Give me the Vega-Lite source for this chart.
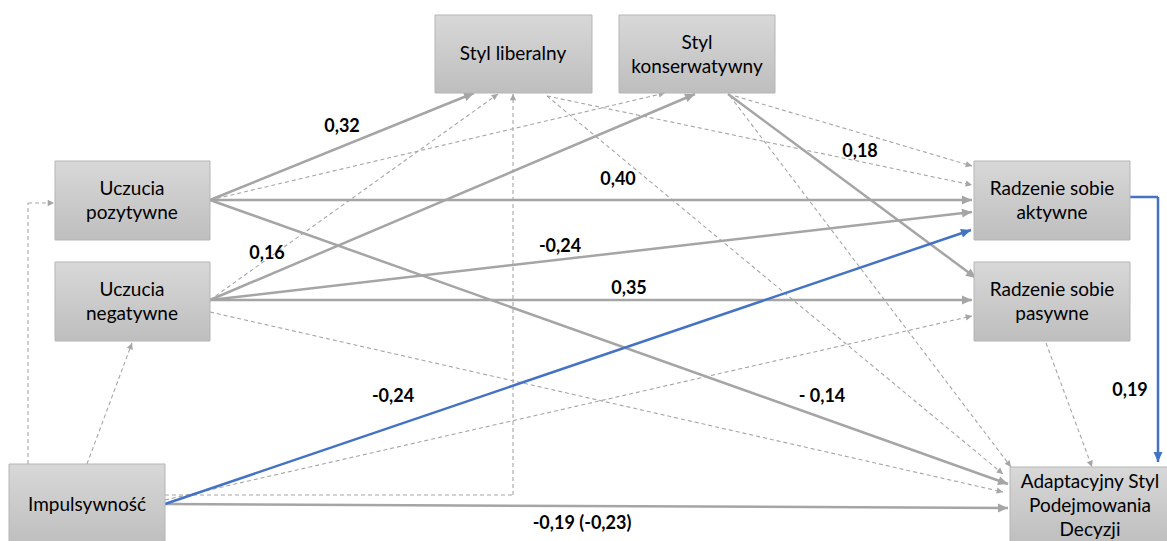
{
  "$schema": "https://vega.github.io/schema/vega-lite/v6.json",
  "width": 1167,
  "height": 541,
  "padding": 0,
  "autosize": {"type": "fit", "contains": "padding"},
  "background": "#ffffff",
  "config": {"view": {"stroke": null}},
  "datasets": {
    "nodes": [
      {"name": "Styl liberalny", "x1": 435, "x2": 592, "y1": 15, "y2": 93, "tx": 513, "ty": 54},
      {"name": "Styl\nkonserwatywny", "x1": 619, "x2": 775, "y1": 15, "y2": 93, "tx": 697, "ty": 43},
      {"name": "Uczucia\npozytywne", "x1": 55, "x2": 210, "y1": 161, "y2": 240, "tx": 132, "ty": 189},
      {"name": "Uczucia\nnegatywne", "x1": 55, "x2": 210, "y1": 262, "y2": 341, "tx": 132, "ty": 290},
      {"name": "Radzenie sobie\naktywne", "x1": 974, "x2": 1130, "y1": 161, "y2": 240, "tx": 1052, "ty": 189},
      {"name": "Radzenie sobie\npasywne", "x1": 974, "x2": 1130, "y1": 262, "y2": 341, "tx": 1052, "ty": 290},
      {"name": "Impulsywność", "x1": 9, "x2": 165, "y1": 464, "y2": 545, "tx": 87, "ty": 505},
      {"name": "Adaptacyjny Styl\nPodejmowania\nDecyzji", "x1": 1010, "x2": 1170, "y1": 467, "y2": 545, "tx": 1090, "ty": 482}
    ],
    "edges": [
      {"x1": 210, "y1": 200, "x2": 474, "y2": 93, "kind": "solid", "arrow": true},
      {"x1": 210, "y1": 200, "x2": 972, "y2": 200, "kind": "solid", "arrow": true},
      {"x1": 210, "y1": 200, "x2": 1008, "y2": 484, "kind": "solid", "arrow": true},
      {"x1": 210, "y1": 300, "x2": 695, "y2": 94, "kind": "solid", "arrow": true},
      {"x1": 210, "y1": 300, "x2": 972, "y2": 212, "kind": "solid", "arrow": true},
      {"x1": 210, "y1": 300, "x2": 972, "y2": 300, "kind": "solid", "arrow": true},
      {"x1": 728, "y1": 94, "x2": 976, "y2": 278, "kind": "solid", "arrow": true},
      {"x1": 165, "y1": 504, "x2": 1008, "y2": 508, "kind": "solid", "arrow": true},
      {"x1": 165, "y1": 504, "x2": 971, "y2": 230, "kind": "blue", "arrow": true},
      {"x1": 1130, "y1": 197, "x2": 1158, "y2": 197, "kind": "blue", "arrow": false},
      {"x1": 1158, "y1": 197, "x2": 1158, "y2": 462, "kind": "blue", "arrow": true},
      {"x1": 28, "y1": 464, "x2": 28, "y2": 203, "kind": "dashed", "arrow": false},
      {"x1": 28, "y1": 203, "x2": 54, "y2": 203, "kind": "dashed", "arrow": true},
      {"x1": 87, "y1": 464, "x2": 132, "y2": 343, "kind": "dashed", "arrow": true},
      {"x1": 165, "y1": 495, "x2": 513, "y2": 495, "kind": "dashed", "arrow": false},
      {"x1": 513, "y1": 495, "x2": 513, "y2": 94, "kind": "dashed", "arrow": true},
      {"x1": 165, "y1": 500, "x2": 972, "y2": 316, "kind": "dashed", "arrow": true},
      {"x1": 210, "y1": 200, "x2": 665, "y2": 93, "kind": "dashed", "arrow": true},
      {"x1": 210, "y1": 300, "x2": 498, "y2": 94, "kind": "dashed", "arrow": true},
      {"x1": 547, "y1": 96, "x2": 972, "y2": 185, "kind": "dashed", "arrow": true},
      {"x1": 735, "y1": 96, "x2": 972, "y2": 166, "kind": "dashed", "arrow": true},
      {"x1": 547, "y1": 96, "x2": 1003, "y2": 474, "kind": "dashed", "arrow": true},
      {"x1": 730, "y1": 96, "x2": 1011, "y2": 467, "kind": "dashed", "arrow": true},
      {"x1": 210, "y1": 312, "x2": 1003, "y2": 492, "kind": "dashed", "arrow": true},
      {"x1": 1046, "y1": 343, "x2": 1092, "y2": 467, "kind": "dashed", "arrow": true}
    ],
    "labels": [
      {"x": 342, "y": 127, "text": "0,32"},
      {"x": 267, "y": 254, "text": "0,16"},
      {"x": 560, "y": 247, "text": "-0,24"},
      {"x": 618, "y": 180, "text": "0,40"},
      {"x": 860, "y": 152, "text": "0,18"},
      {"x": 629, "y": 289, "text": "0,35"},
      {"x": 393, "y": 397, "text": "-0,24"},
      {"x": 822, "y": 397, "text": "- 0,14"},
      {"x": 582, "y": 524, "text": "-0,19 (-0,23)"},
      {"x": 1130, "y": 391, "text": "0,19"}
    ]
  },
  "layer": [
    {
      "data": {"name": "edges"},
      "transform": [{"filter": "datum.kind === 'dashed'"}],
      "mark": {"type": "rule", "color": "#a6a6a6", "strokeWidth": 1.1, "strokeDash": [4, 3], "clip": true},
      "encoding": {
        "x": {"field": "x1", "type": "quantitative", "scale": {"domain": [0, 1167], "nice": false, "zero": false}, "axis": null},
        "y": {"field": "y1", "type": "quantitative", "scale": {"domain": [0, 541], "nice": false, "zero": false, "reverse": true}, "axis": null},
        "x2": {"field": "x2"},
        "y2": {"field": "y2"}
      }
    },
    {
      "data": {"name": "edges"},
      "transform": [{"filter": "datum.kind === 'solid'"}],
      "mark": {"type": "rule", "color": "#a5a5a5", "strokeWidth": 2.5, "clip": true},
      "encoding": {
        "x": {"field": "x1", "type": "quantitative", "axis": null},
        "y": {"field": "y1", "type": "quantitative", "axis": null},
        "x2": {"field": "x2"},
        "y2": {"field": "y2"}
      }
    },
    {
      "data": {"name": "edges"},
      "transform": [{"filter": "datum.kind === 'blue'"}],
      "mark": {"type": "rule", "color": "#4472c4", "strokeWidth": 2.5, "clip": true},
      "encoding": {
        "x": {"field": "x1", "type": "quantitative", "axis": null},
        "y": {"field": "y1", "type": "quantitative", "axis": null},
        "x2": {"field": "x2"},
        "y2": {"field": "y2"}
      }
    },
    {
      "data": {"name": "edges"},
      "transform": [
        {"filter": "datum.arrow && datum.kind === 'dashed'"},
        {"calculate": "atan2(datum.y2 - datum.y1, datum.x2 - datum.x1) * 180 / PI", "as": "ang"}
      ],
      "mark": {"type": "point", "shape": "M0,0L-1,-0.5L-1,0.5Z", "filled": true, "color": "#a6a6a6", "opacity": 1, "size": 160, "strokeWidth": 0, "clip": true},
      "encoding": {
        "x": {"field": "x2", "type": "quantitative", "axis": null},
        "y": {"field": "y2", "type": "quantitative", "axis": null},
        "angle": {"field": "ang", "type": "quantitative", "scale": null}
      }
    },
    {
      "data": {"name": "edges"},
      "transform": [
        {"filter": "datum.arrow && datum.kind === 'solid'"},
        {"calculate": "atan2(datum.y2 - datum.y1, datum.x2 - datum.x1) * 180 / PI", "as": "ang"}
      ],
      "mark": {"type": "point", "shape": "M0,0L-1,-0.45L-1,0.45Z", "filled": true, "color": "#a5a5a5", "opacity": 1, "size": 400, "strokeWidth": 0, "clip": true},
      "encoding": {
        "x": {"field": "x2", "type": "quantitative", "axis": null},
        "y": {"field": "y2", "type": "quantitative", "axis": null},
        "angle": {"field": "ang", "type": "quantitative", "scale": null}
      }
    },
    {
      "data": {"name": "edges"},
      "transform": [
        {"filter": "datum.arrow && datum.kind === 'blue'"},
        {"calculate": "atan2(datum.y2 - datum.y1, datum.x2 - datum.x1) * 180 / PI", "as": "ang"}
      ],
      "mark": {"type": "point", "shape": "M0,0L-1,-0.45L-1,0.45Z", "filled": true, "color": "#4472c4", "opacity": 1, "size": 400, "strokeWidth": 0, "clip": true},
      "encoding": {
        "x": {"field": "x2", "type": "quantitative", "axis": null},
        "y": {"field": "y2", "type": "quantitative", "axis": null},
        "angle": {"field": "ang", "type": "quantitative", "scale": null}
      }
    },
    {
      "data": {"name": "nodes"},
      "mark": {
        "type": "rect",
        "clip": true,
        "stroke": "#b5b5b5",
        "strokeWidth": 1,
        "fill": {"gradient": "linear", "x1": 0, "y1": 0, "x2": 0, "y2": 1, "stops": [{"offset": 0, "color": "#d8d8d8"}, {"offset": 1, "color": "#bebebe"}]}
      },
      "encoding": {
        "x": {"field": "x1", "type": "quantitative", "axis": null},
        "x2": {"field": "x2"},
        "y": {"field": "y1", "type": "quantitative", "axis": null},
        "y2": {"field": "y2"}
      }
    },
    {
      "data": {"name": "nodes"},
      "mark": {"type": "text", "clip": true, "font": "Lato", "fontSize": 19, "color": "#000000", "align": "center", "baseline": "middle", "lineBreak": "\n", "lineHeight": 24},
      "encoding": {
        "x": {"field": "tx", "type": "quantitative", "axis": null},
        "y": {"field": "ty", "type": "quantitative", "axis": null},
        "text": {"field": "name"}
      }
    },
    {
      "data": {"name": "labels"},
      "mark": {"type": "text", "clip": true, "font": "Lato", "fontSize": 18, "fontWeight": "bold", "color": "#000000", "align": "center", "baseline": "middle"},
      "encoding": {
        "x": {"field": "x", "type": "quantitative", "axis": null},
        "y": {"field": "y", "type": "quantitative", "axis": null},
        "text": {"field": "text"}
      }
    }
  ]
}
